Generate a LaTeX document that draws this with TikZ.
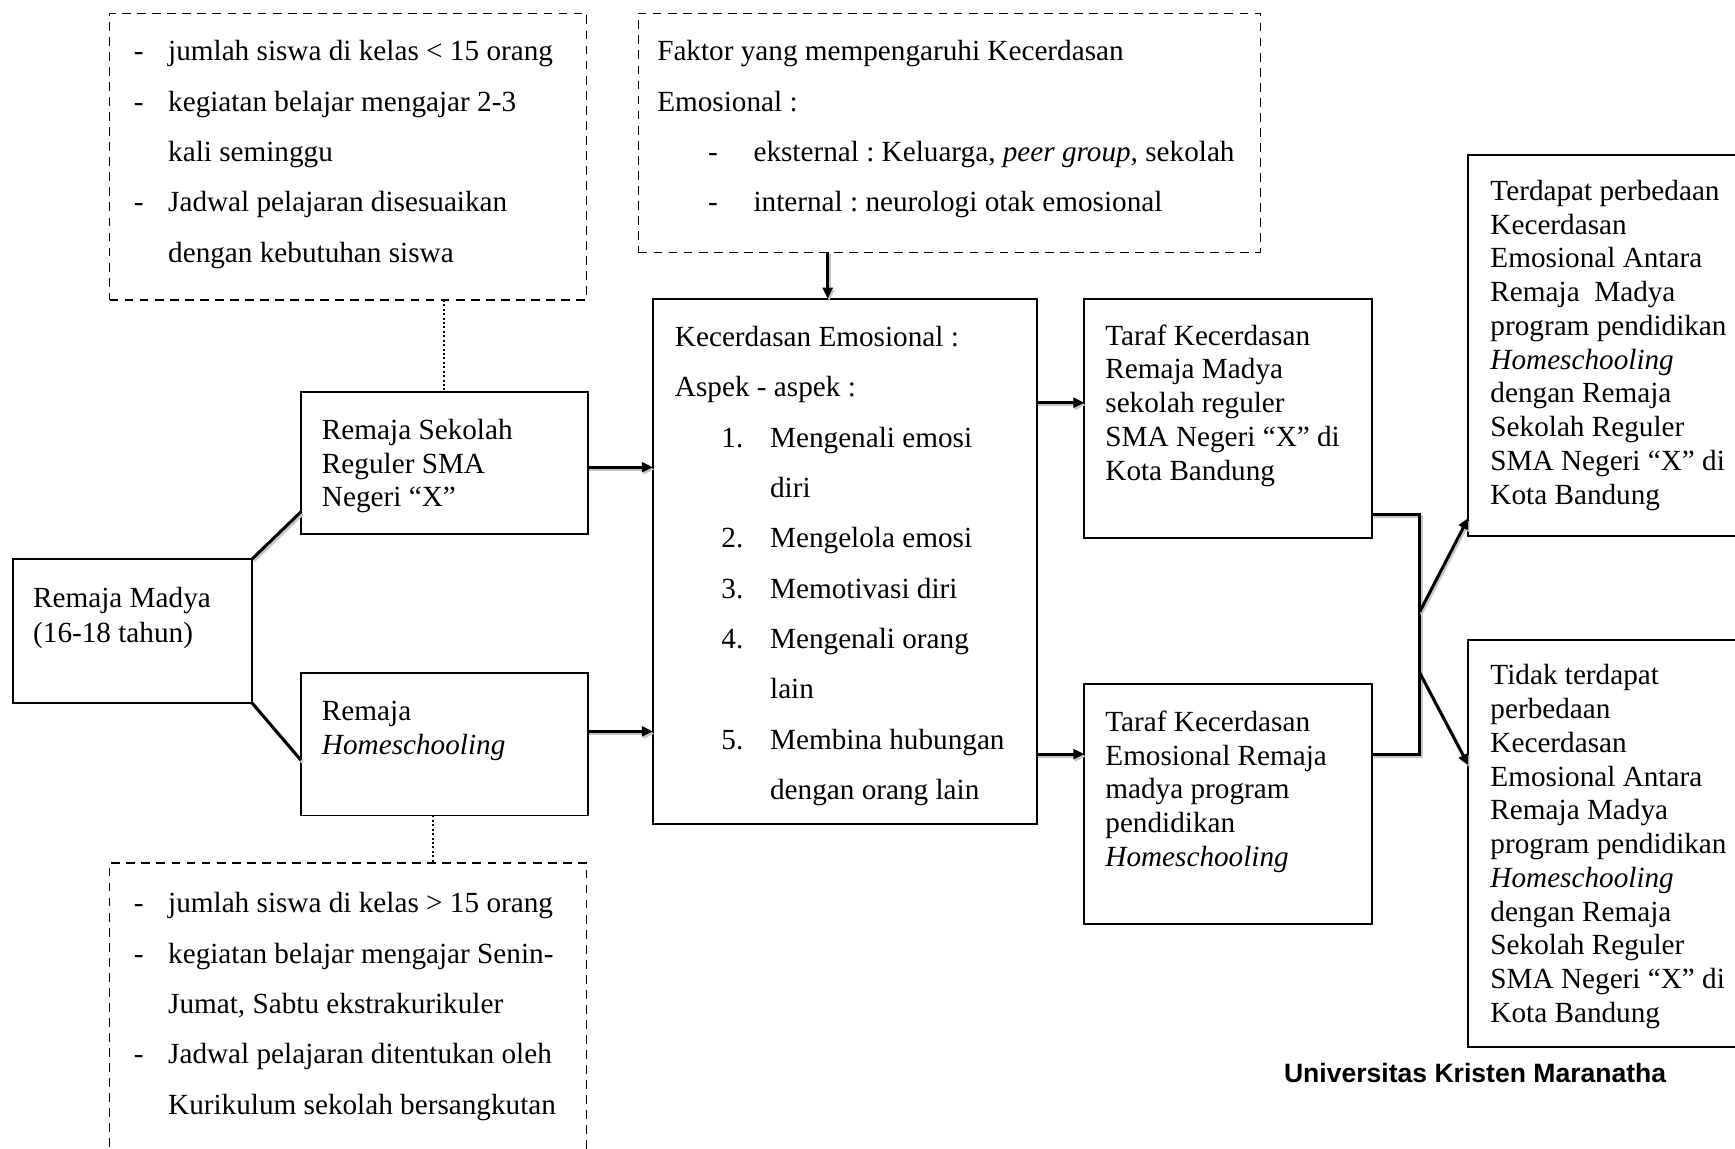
\documentclass[tikz,border=0pt]{standalone}
\usepackage{fontspec}
\setmainfont{Liberation Serif}
\newfontfamily\univfont{Liberation Sans}
\usetikzlibrary{arrows.meta,fit}
\begin{document}
\begin{tikzpicture}[x=0.5pt,y=-0.5pt,
  box/.style={draw, line width=0.9pt, inner sep=0pt, outer sep=0pt},
  dbox/.style={draw, line width=0.7pt, dash pattern=on 4pt off 2.8pt, inner sep=0pt, outer sep=0pt},
  tx/.style={anchor=base west, inner sep=0pt, outer sep=0pt, align=flush left, text width=400pt},
  ts/.style={tx, font=\fontsize{13.2}{15.25}\selectfont\frenchspacing},
  td/.style={tx, font=\fontsize{13.2}{22.75}\selectfont\frenchspacing},
  conn/.style={line width=1.35pt, preaction={draw=gray!45, line width=1.35pt, transform canvas={shift={(0.7pt,-1pt)}}}},
  arr/.style={conn, -{Triangle[length=5pt,width=4.5pt]}},
  dots/.style={line width=0.9pt, dash pattern=on 0.9pt off 1.1pt}
]
\useasboundingbox (0,0) rectangle (1568,1038);
\fill[white] (0,0) rectangle (1568,1038);

% boxes
\node[dbox, fit={(99,12) (530,271)}] (tl) {};
\node[dbox, fit={(577,12) (1139,228)}] (fk) {};
\node[dbox, fit={(99,780) (530,1070)}] (bl) {};
\node[box, fit={(272,354) (531,482.5)}] (sekolah) {};
\node[box, fit={(12,505) (228,635.5)}] (madya) {};
\node[box, fit={(272,608) (531,737)}] (home) {};
\node[box, fit={(590,270) (937,745)}] (center) {};
\node[box, fit={(980,270) (1240,486)}] (taraf1) {};
\node[box, fit={(980,618.5) (1240,835)}] (taraf2) {};
\node[box, fit={(1327,140) (1600,484)}] (hasil1) {};
\node[box, fit={(1327,578) (1600,946)}] (hasil2) {};

% texts
\node[td] (tltext) at (121,55) {%
\makebox[15.5pt][l]{-}jumlah siswa di kelas < 15 orang\\
\makebox[15.5pt][l]{-}kegiatan belajar mengajar 2-3\\
\hspace*{15.5pt}kali seminggu\\
\makebox[15.5pt][l]{-}Jadwal pelajaran disesuaikan\\
\hspace*{15.5pt}dengan kebutuhan siswa};

\node[td] (fktext) at (594,55) {%
Faktor yang mempengaruhi Kecerdasan\\
Emosional :\\
\hspace*{23pt}\makebox[20.5pt][l]{-}eksternal : Keluarga, \textit{peer group,} sekolah\\
\hspace*{23pt}\makebox[20.5pt][l]{-}internal : neurologi otak emosional};

\node[td] (bltext) at (121,825) {%
\makebox[15.5pt][l]{-}jumlah siswa di kelas > 15 orang\\
\makebox[15.5pt][l]{-}kegiatan belajar mengajar Senin-\\
\hspace*{15.5pt}Jumat, Sabtu ekstrakurikuler\\
\makebox[15.5pt][l]{-}Jadwal pelajaran ditentukan oleh\\
\hspace*{15.5pt}Kurikulum sekolah bersangkutan};

\node[td] (centertext) at (610,313) {%
Kecerdasan Emosional :\\
Aspek - aspek :\\
\hspace*{21pt}\makebox[22pt][l]{1.}Mengenali emosi\\
\hspace*{43pt}diri\\
\hspace*{21pt}\makebox[22pt][l]{2.}Mengelola emosi\\
\hspace*{21pt}\makebox[22pt][l]{3.}Memotivasi diri\\
\hspace*{21pt}\makebox[22pt][l]{4.}Mengenali orang\\
\hspace*{43pt}lain\\
\hspace*{21pt}\makebox[22pt][l]{5.}Membina hubungan\\
\hspace*{43pt}dengan orang lain};

\node[ts] (sekolahtext) at (291,397) {Remaja Sekolah\\Reguler SMA\\Negeri “X”};
\node[tx, font=\fontsize{13.2}{16}\selectfont\frenchspacing] (madyatext) at (30,549) {Remaja Madya\\(16-18 tahun)};
\node[ts] (hometext) at (291,651) {Remaja\\\textit{Homeschooling}};
\node[ts] (taraf1text) at (999,312) {Taraf Kecerdasan\\Remaja Madya\\sekolah reguler\\SMA Negeri “X” di\\Kota Bandung};
\node[ts] (taraf2text) at (999,661) {Taraf Kecerdasan\\Emosional Remaja\\madya program\\pendidikan\\\textit{Homeschooling}};
\node[ts] (hasil1text) at (1347,181) {Terdapat perbedaan\\Kecerdasan\\Emosional Antara\\Remaja\ \ Madya\\program pendidikan\\\textit{Homeschooling}\\dengan Remaja\\Sekolah Reguler\\SMA Negeri “X” di\\Kota Bandung};
\node[ts] (hasil2text) at (1347,619) {Tidak terdapat\\perbedaan\\Kecerdasan\\Emosional Antara\\Remaja Madya\\program pendidikan\\\textit{Homeschooling}\\dengan Remaja\\Sekolah Reguler\\SMA Negeri “X” di\\Kota Bandung};

\node[anchor=base west, inner sep=0pt, font=\univfont\bfseries\fontsize{12}{14}\selectfont] (univ) at (1160,978) {Universitas Kristen Maranatha};

% dotted links
\draw[dots] ([xshift=43.25pt]tl.south) -- ([xshift=43.25pt]tl.south |- sekolah.north);
\draw[dots] ([xshift=38.25pt]bl.north |- home.south) -- ([xshift=38.25pt]bl.north);

% connectors
\draw[conn] (madya.north east) -- ([yshift=10pt]sekolah.south west);
\draw[conn] (madya.south east) -- ([yshift=-39.5pt]home.north west);
\draw[arr] ([yshift=-2pt]sekolah.east) -- ([yshift=-2pt]sekolah.east -| center.west);
\draw[arr] ([yshift=5.75pt]home.east) -- ([yshift=5.75pt]home.east -| center.west);
\draw[arr] ([xshift=-55pt]fk.south) -- ([xshift=-55pt]fk.south |- center.north);
\draw[arr] ([yshift=7pt]taraf1.west -| center.east) -- ([yshift=7pt]taraf1.west);
\draw[arr] ([yshift=22.6pt]taraf2.west -| center.east) -- ([yshift=22.6pt]taraf2.west);

\coordinate (j1) at (1283,465);
\coordinate (j2) at (1283,681.5);
\coordinate (s1) at (1283,553);
\coordinate (s2) at (1283,608);
\draw[conn] (taraf1.east |- j1) -- (j1) -- (j2) -- (taraf2.east |- j2);
\draw[arr] (s1) -- ([yshift=8pt]hasil1.south west);
\draw[arr] (s2) -- ([yshift=-56.75pt]hasil2.north west);
\end{tikzpicture}
\end{document}
